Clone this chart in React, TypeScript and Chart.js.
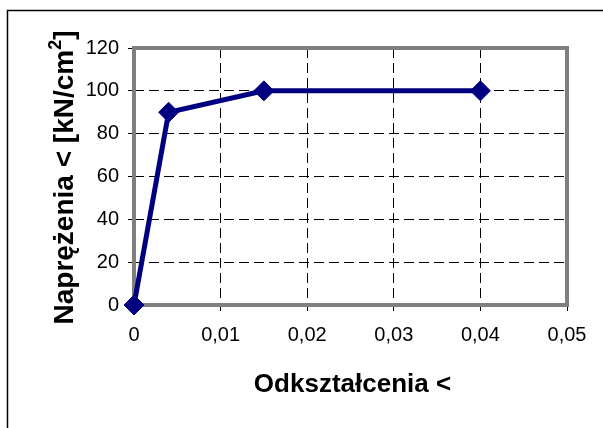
import React, { useEffect, useRef } from "react";
import { Chart, registerables } from "chart.js";

Chart.register(...registerables);

const strainValues = [0, 0.004, 0.015, 0.04];
const stressValues = [0, 90, 100, 100];
const xTitle = "Odkształcenia <";
const yTitleMain = "Naprężenia < [kN/cm";
const yTitleSup = "2";
const yTitleEnd = "]";

const FONT = '"Liberation Sans", Arial, Helvetica, sans-serif';

const framePlugin = {
  id: "frame",
  beforeDraw(chart: any) {
    const ctx = chart.ctx;
    ctx.save();
    ctx.fillStyle = "#ffffff";
    ctx.fillRect(0, 0, chart.width, chart.height);
    ctx.strokeStyle = "#000000";
    ctx.lineWidth = 1.5;
    ctx.beginPath();
    ctx.moveTo(7.5, chart.height + 5);
    ctx.lineTo(7.5, 10.5);
    ctx.lineTo(chart.width + 5, 10.5);
    ctx.stroke();
    ctx.restore();
  },
  beforeDatasetsDraw(chart: any) {
    const ctx = chart.ctx;
    const { left, top, right, bottom } = chart.chartArea;
    ctx.save();
    ctx.strokeStyle = "#808080";
    ctx.lineWidth = 4;
    ctx.strokeRect(left, top, right - left, bottom - top);
    ctx.restore();
  },
  afterDraw(chart: any) {
    const ctx = chart.ctx;
    const { left, top, right, bottom } = chart.chartArea;
    ctx.save();
    ctx.fillStyle = "#000000";
    ctx.font = `bold 26px ${FONT}`;
    ctx.textAlign = "center";
    ctx.textBaseline = "alphabetic";
    ctx.fillText(xTitle, (left + right) / 2 + 2, 392);

    const mainFont = `bold 28px ${FONT}`;
    const supFont = `bold 18px ${FONT}`;
    ctx.translate(73, (top + bottom) / 2 + 1);
    ctx.rotate(-Math.PI / 2);
    ctx.textAlign = "left";
    ctx.font = mainFont;
    const w1 = ctx.measureText(yTitleMain).width;
    const w3 = ctx.measureText(yTitleEnd).width;
    ctx.font = supFont;
    const w2 = ctx.measureText(yTitleSup).width;
    const total = w1 + w2 + w3;
    let x = -total / 2;
    ctx.font = mainFont;
    ctx.fillText(yTitleMain, x, 0);
    x += w1;
    ctx.font = supFont;
    ctx.fillText(yTitleSup, x, -12);
    x += w2;
    ctx.font = mainFont;
    ctx.fillText(yTitleEnd, x, 0);
    ctx.restore();
  },
};

export default function App() {
  const ref = useRef<HTMLCanvasElement>(null);
  useEffect(() => {
    if (!ref.current) return;
    const chart = new Chart(ref.current, {
      type: "line",
      data: {
        datasets: [
          {
            data: strainValues.map((x, i) => ({ x, y: stressValues[i] })),
            borderColor: "#000080",
            backgroundColor: "#000080",
            borderWidth: 5,
            pointStyle: "rectRot",
            pointRadius: 10,
            pointBorderWidth: 1,
            pointBackgroundColor: "#000080",
            pointBorderColor: "#000080",
            tension: 0,
            clip: false,
          } as any,
        ],
      },
      options: {
        animation: false,
        responsive: false,
        devicePixelRatio: 1,
        layout: { padding: { top: 48, right: 36, left: 0, bottom: 0 } },
        plugins: { legend: { display: false }, tooltip: { enabled: false } },
        scales: {
          x: {
            type: "linear",
            min: 0,
            max: 0.05,
            afterFit(scale: any) {
              scale.height = 123;
            },
            ticks: {
              stepSize: 0.01,
              color: "#000",
              padding: 12,
              maxRotation: 0,
              font: { family: FONT, size: 20 },
              callback: (v: any) => String(Number(Number(v).toFixed(3))).replace(".", ","),
            },
            grid: { color: "#000", lineWidth: 1, tickLength: 6, tickColor: "#000" },
            border: { display: false, dash: [10, 5] },
          },
          y: {
            type: "linear",
            min: 0,
            max: 120,
            afterFit(scale: any) {
              scale.width = 134;
            },
            ticks: {
              stepSize: 20,
              color: "#000",
              padding: 9,
              font: { family: FONT, size: 20 },
            },
            grid: { color: "#000", lineWidth: 1, tickLength: 6, tickColor: "#000" },
            border: { display: false, dash: [10, 5] },
          },
        },
      },
      plugins: [framePlugin],
    });
    return () => chart.destroy();
  }, []);
  return (
    <div style={{ position: "absolute", left: 0, top: 0, width: 603, height: 428 }}>
      <canvas ref={ref} width={603} height={428} style={{ display: "block" }} />
    </div>
  );
}
